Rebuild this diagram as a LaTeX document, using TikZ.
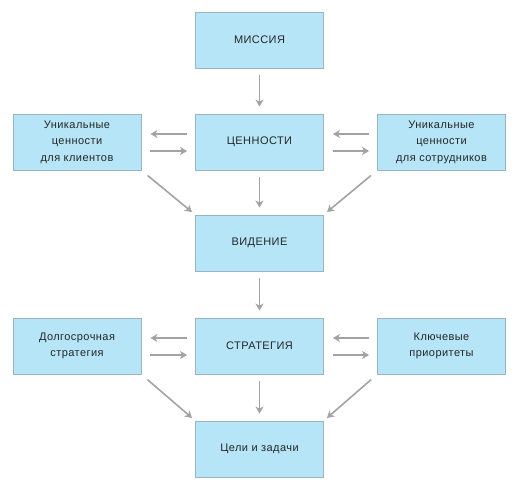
\documentclass[tikz,border=0pt]{standalone}
\usepackage{fontspec}
\setmainfont{Liberation Sans}[LetterSpace=4]
\usetikzlibrary{arrows.meta}
\definecolor{boxfill}{HTML}{B5E5F6}
\definecolor{boxline}{HTML}{9AB4C2}
\definecolor{arr}{HTML}{A3A3A3}
\tikzset{
  box/.style={draw=boxline, fill=boxfill, line width=0.8pt, minimum width=128pt, minimum height=56pt, inner sep=2pt, align=center, font=\fontsize{11}{16.5}\selectfont, text=black!85},
  conn/.style={draw=arr, line width=1.6pt, -{Stealth[length=7pt,width=8pt,inset=2pt]}},
}
\begin{document}
\begin{tikzpicture}[x=1pt,y=-1pt]
\useasboundingbox (0,0) rectangle (521,492);
\node[box] (mis) at (259.5,40) {МИССИЯ};
\node[box] (cen) at (259.5,142) {ЦЕННОСТИ};
\node[box] (kli) at (77,142) {Уникальные\\ценности\\для клиентов};
\node[box] (sot) at (441.5,142) {Уникальные\\ценности\\для сотрудников};
\node[box] (vid) at (259.5,243) {ВИДЕНИЕ};
\node[box] (str) at (259.5,346) {СТРАТЕГИЯ};
\node[box] (dol) at (77,346) {Долгосрочная\\стратегия};
\node[box] (klu) at (441.5,346) {Ключевые\\приоритеты};
\node[box] (cel) at (259.5,449) {Цели и задачи};

\draw[conn, shorten <=7pt, shorten >=7pt] (mis) -- (cen);
\draw[conn, shorten <=7pt, shorten >=7pt] (cen) -- (vid);
\draw[conn, shorten <=7pt, shorten >=7pt] (vid) -- (str);
\draw[conn, shorten <=7pt, shorten >=7pt] (str) -- (cel);

\draw[conn, shorten <=8pt, shorten >=9pt] ([yshift=8pt]cen.west) -- ([yshift=8pt]kli.east);
\draw[conn, shorten <=9pt, shorten >=8pt] ([yshift=-9pt]kli.east) -- ([yshift=-9pt]cen.west);
\draw[conn, shorten <=8pt, shorten >=9pt] ([yshift=8pt]sot.west) -- ([yshift=8pt]cen.east);
\draw[conn, shorten <=9pt, shorten >=8pt] ([yshift=-9pt]cen.east) -- ([yshift=-9pt]sot.west);

\draw[conn, shorten <=8pt, shorten >=4pt] (kli.south east) -- (vid.north west);
\draw[conn, shorten <=8pt, shorten >=4pt] (sot.south west) -- (vid.north east);

\draw[conn, shorten <=8pt, shorten >=9pt] ([yshift=8pt]str.west) -- ([yshift=8pt]dol.east);
\draw[conn, shorten <=9pt, shorten >=8pt] ([yshift=-9pt]dol.east) -- ([yshift=-9pt]str.west);
\draw[conn, shorten <=8pt, shorten >=9pt] ([yshift=8pt]klu.west) -- ([yshift=8pt]str.east);
\draw[conn, shorten <=9pt, shorten >=8pt] ([yshift=-9pt]str.east) -- ([yshift=-9pt]klu.west);

\draw[conn, shorten <=8pt, shorten >=4pt] (dol.south east) -- (cel.north west);
\draw[conn, shorten <=8pt, shorten >=4pt] (klu.south west) -- (cel.north east);
\end{tikzpicture}
\end{document}
